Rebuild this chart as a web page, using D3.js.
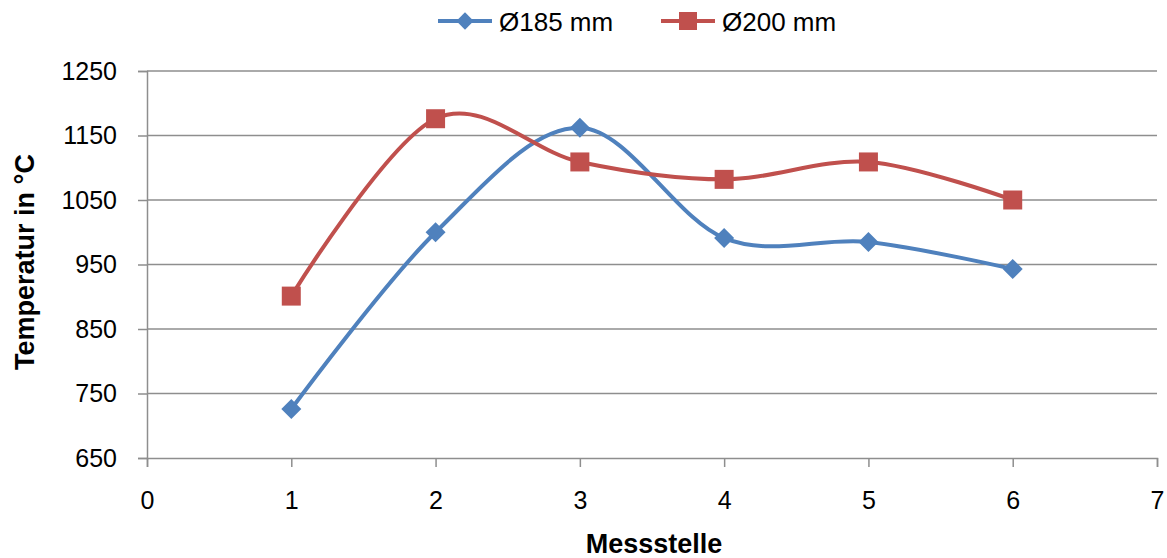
<!DOCTYPE html>
<html>
<head>
<meta charset="utf-8">
<script src="https://cdn.jsdelivr.net/npm/d3@7"></script>
<style>
  body { margin: 0; background: #fff; }
  svg { display: block; font-family: 'Liberation Sans', Arial, sans-serif; }
</style>
</head>
<body>
<svg id="chart" width="1167" height="558"></svg>
<script>
// data
const messstellen = [1, 2, 3, 4, 5, 6]
const d185 = [726, 1000, 1162, 991, 985, 943]
const d200 = [901, 1176, 1109, 1082, 1109, 1050]
const seriesNames = ['Ø185 mm', 'Ø200 mm']
const xTicks = [0, 1, 2, 3, 4, 5, 6, 7]
const yTicks = [650, 750, 850, 950, 1050, 1150, 1250]

const colors = ['#4F81BD', '#C0504D']
const gridColor = '#8e8e8e'

let svg = d3.select('#chart')
let margin = {top: 71, right: 10, bottom: 100, left: 147}
let width = 1157 - margin.left
let height = 458 - margin.top

let g = svg.append('g')
  .attr('transform', 'translate(' + margin.left + ',' + margin.top + ')')

let x = d3.scaleLinear().domain([0, 7]).range([0, width])
let y = d3.scaleLinear().domain([650, 1250]).range([height, 0])

// horizontal gridlines
g.append('g')
  .selectAll('line')
  .data(yTicks.slice(1))
  .enter().append('line')
    .attr('x1', 0)
    .attr('x2', width)
    .attr('y1', d => y(d))
    .attr('y2', d => y(d))
    .attr('stroke', gridColor)
    .attr('stroke-width', 1.5)

// y axis
let yAxis = g.append('g')
  .call(d3.axisLeft(y).tickValues(yTicks).tickFormat(d3.format('d')).tickSize(9).tickPadding(21))
yAxis.select('.domain').attr('stroke', gridColor).attr('stroke-width', 1.5)
yAxis.selectAll('.tick line').attr('stroke', gridColor).attr('stroke-width', 1.5)
yAxis.selectAll('.tick text')
  .attr('fill', '#000')
  .style('font-size', '25px')

// x axis
let xAxis = g.append('g')
  .attr('transform', 'translate(0,' + height + ')')
  .call(d3.axisBottom(x).tickValues(xTicks).tickFormat(d3.format('d')).tickSize(9).tickPadding(24))
xAxis.select('.domain').attr('stroke', gridColor).attr('stroke-width', 1.5)
xAxis.selectAll('.tick line').attr('stroke', gridColor).attr('stroke-width', 1.5)
xAxis.selectAll('.tick text')
  .attr('fill', '#000')
  .style('font-size', '25px')

// axis titles
svg.append('text')
  .attr('x', 654)
  .attr('y', 553)
  .attr('text-anchor', 'middle')
  .style('font-size', '27px')
  .style('font-weight', 'bold')
  .text('Messstelle')

svg.append('text')
  .attr('transform', 'translate(34,262) rotate(-90)')
  .attr('text-anchor', 'middle')
  .style('font-size', '27px')
  .style('font-weight', 'bold')
  .text('Temperatur in °C')

// smoothed lines
let line = d3.line()
  .x(d => x(d.x))
  .y(d => y(d.y))
  .curve(d3.curveCardinal.tension(0))

let series = [d185, d200].map((vals, i) => ({
  name: seriesNames[i],
  color: colors[i],
  points: vals.map((v, j) => ({x: messstellen[j], y: v}))
}))

let diamond = d3.symbol().type(d3.symbolSquare).size(200)
let square = d3.symbol().type(d3.symbolSquare).size(361)

series.forEach((s, i) => {
  g.append('path')
    .datum(s.points)
    .attr('fill', 'none')
    .attr('stroke', s.color)
    .attr('stroke-width', 4)
    .attr('stroke-linejoin', 'round')
    .attr('d', line)
})

series.forEach((s, i) => {
  g.selectAll('.m' + i)
    .data(s.points)
    .enter().append('path')
      .attr('class', 'm' + i)
      .attr('d', i === 0 ? diamond : square)
      .attr('transform', d => 'translate(' + x(d.x) + ',' + y(d.y) + ')' + (i === 0 ? ' rotate(45)' : ''))
      .attr('fill', s.color)
})

// legend
let legendX = [438, 661]
let legend = svg.append('g')
series.forEach((s, i) => {
  let lg = legend.append('g').attr('transform', 'translate(' + legendX[i] + ',21)')
  lg.append('line')
    .attr('x1', 0).attr('x2', 54)
    .attr('stroke', s.color)
    .attr('stroke-width', 4)
  lg.append('path')
    .attr('d', i === 0 ? d3.symbol().type(d3.symbolSquare).size(150) : d3.symbol().type(d3.symbolSquare).size(324))
    .attr('transform', 'translate(27,0)' + (i === 0 ? ' rotate(45)' : ''))
    .attr('fill', s.color)
  lg.append('text')
    .attr('x', 61)
    .attr('y', 10)
    .style('font-size', '26px')
    .text(s.name)
})
</script>
</body>
</html>
